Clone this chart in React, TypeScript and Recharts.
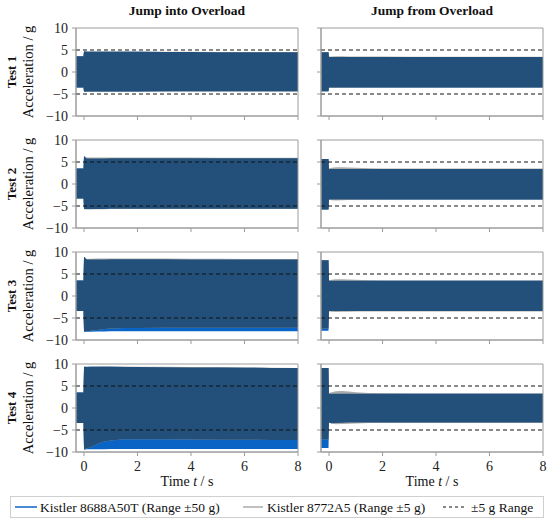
import { ComposedChart, Area, XAxis, YAxis, ReferenceLine, ReferenceArea } from 'recharts';

// sample times (s) shared by every panel
const time = [-0.3, -0.02, 0, 0.1, 0.25, 0.5, 0.75, 1, 1.5, 2, 3, 4, 5, 6, 7, 8];

// Jump into Overload: one row per test
const intoBlueHigh = [
  [3.6, 3.6, 4.7, 4.6, 4.6, 4.6, 4.6, 4.6, 4.6, 4.6, 4.55, 4.55, 4.5, 4.5, 4.5, 4.5],
  [3.5, 3.5, 6.3, 5.8, 5.8, 5.8, 5.8, 5.85, 5.85, 5.85, 5.85, 5.85, 5.85, 5.85, 5.85, 5.85],
  [3.5, 3.5, 8.9, 8.3, 8.3, 8.3, 8.3, 8.35, 8.35, 8.35, 8.35, 8.3, 8.3, 8.3, 8.3, 8.3],
  [3.5, 3.5, 9.4, 9.4, 9.4, 9.4, 9.35, 9.35, 9.3, 9.3, 9.25, 9.2, 9.2, 9.15, 9.1, 9.1],
];
const intoBlueLow = [
  [-3.5, -3.5, -4.5, -4.45, -4.45, -4.45, -4.45, -4.45, -4.45, -4.45, -4.4, -4.4, -4.4, -4.4, -4.4, -4.4],
  [-3.3, -3.3, -5.7, -5.7, -5.7, -5.7, -5.7, -5.65, -5.65, -5.6, -5.6, -5.6, -5.6, -5.6, -5.6, -5.6],
  [-3.4, -3.4, -8.15, -8.1, -8.1, -8.05, -8.05, -8.0, -8.0, -8.0, -8.0, -8.0, -8.0, -8.0, -8.0, -8.0],
  [-3.4, -3.4, -9.5, -9.4, -9.4, -9.35, -9.35, -9.3, -9.3, -9.3, -9.3, -9.3, -9.3, -9.3, -9.3, -9.3],
];
const intoGrayHigh = [
  [3.6, 3.6, 4.7, 4.65, 4.65, 4.65, 4.65, 4.65, 4.65, 4.6, 4.6, 4.6, 4.55, 4.55, 4.55, 4.55],
  [3.5, 3.5, 6.3, 6.0, 6.0, 6.0, 6.0, 6.0, 6.0, 6.0, 6.0, 6.0, 5.95, 5.95, 5.95, 5.95],
  [3.5, 3.5, 8.9, 8.4, 8.45, 8.5, 8.5, 8.55, 8.55, 8.5, 8.5, 8.45, 8.45, 8.4, 8.4, 8.4],
  [3.5, 3.5, 9.4, 9.3, 9.35, 9.4, 9.45, 9.45, 9.45, 9.4, 9.35, 9.3, 9.25, 9.2, 9.15, 9.1],
];
const intoGrayLow = [
  [-3.5, -3.5, -4.5, -4.5, -4.5, -4.5, -4.5, -4.5, -4.45, -4.45, -4.45, -4.45, -4.45, -4.45, -4.45, -4.45],
  [-3.3, -3.3, -5.75, -5.8, -5.8, -5.75, -5.75, -5.7, -5.7, -5.65, -5.65, -5.65, -5.65, -5.65, -5.65, -5.65],
  [-3.4, -3.4, -8.15, -8.0, -7.9, -7.7, -7.5, -7.4, -7.3, -7.25, -7.2, -7.2, -7.2, -7.2, -7.2, -7.2],
  [-3.4, -3.4, -9.3, -9.2, -8.9, -8.2, -7.6, -7.4, -7.1, -7.1, -7.1, -7.15, -7.2, -7.2, -7.25, -7.25],
];

// Jump from Overload: one row per test
const fromBlueHigh = [
  [4.5, 4.5, 3.4, 3.4, 3.4, 3.4, 3.4, 3.4, 3.4, 3.4, 3.4, 3.4, 3.4, 3.4, 3.4, 3.4],
  [5.7, 5.7, 3.4, 3.4, 3.4, 3.4, 3.4, 3.4, 3.4, 3.4, 3.4, 3.4, 3.4, 3.4, 3.4, 3.4],
  [8.1, 8.1, 3.45, 3.45, 3.45, 3.45, 3.45, 3.45, 3.45, 3.45, 3.45, 3.45, 3.45, 3.45, 3.45, 3.45],
  [9.1, 9.1, 3.25, 3.25, 3.25, 3.25, 3.25, 3.25, 3.25, 3.25, 3.25, 3.25, 3.25, 3.25, 3.25, 3.25],
];
const fromBlueLow = [
  [-4.4, -4.4, -3.5, -3.5, -3.5, -3.5, -3.5, -3.5, -3.5, -3.5, -3.5, -3.5, -3.5, -3.5, -3.5, -3.5],
  [-5.8, -5.8, -3.5, -3.5, -3.5, -3.5, -3.5, -3.5, -3.5, -3.5, -3.5, -3.5, -3.5, -3.5, -3.5, -3.5],
  [-7.9, -7.9, -3.4, -3.4, -3.4, -3.4, -3.4, -3.4, -3.4, -3.4, -3.4, -3.4, -3.4, -3.4, -3.4, -3.4],
  [-9.1, -9.1, -3.4, -3.45, -3.4, -3.35, -3.3, -3.3, -3.3, -3.3, -3.3, -3.3, -3.3, -3.3, -3.3, -3.3],
];
const fromGrayHigh = [
  [4.5, 4.5, 3.5, 3.55, 3.6, 3.6, 3.55, 3.55, 3.5, 3.5, 3.45, 3.45, 3.45, 3.45, 3.45, 3.45],
  [5.7, 5.7, 3.5, 3.7, 3.8, 3.8, 3.75, 3.7, 3.6, 3.55, 3.5, 3.5, 3.5, 3.5, 3.5, 3.5],
  [8.1, 8.1, 3.5, 3.7, 3.8, 3.8, 3.75, 3.7, 3.6, 3.55, 3.5, 3.5, 3.5, 3.5, 3.5, 3.5],
  [9.1, 9.1, 3.4, 3.6, 3.8, 3.85, 3.75, 3.6, 3.4, 3.35, 3.3, 3.3, 3.3, 3.3, 3.3, 3.3],
];
const fromGrayLow = [
  [-4.4, -4.4, -3.55, -3.6, -3.6, -3.6, -3.55, -3.55, -3.55, -3.55, -3.55, -3.55, -3.55, -3.55, -3.55, -3.55],
  [-5.8, -5.8, -3.6, -3.7, -3.75, -3.7, -3.65, -3.6, -3.6, -3.55, -3.55, -3.55, -3.55, -3.55, -3.55, -3.55],
  [-7.4, -7.4, -3.5, -3.6, -3.65, -3.6, -3.6, -3.55, -3.5, -3.5, -3.5, -3.5, -3.5, -3.5, -3.5, -3.5],
  [-7.1, -7.1, -3.3, -3.5, -3.7, -3.65, -3.6, -3.5, -3.4, -3.35, -3.35, -3.35, -3.35, -3.35, -3.35, -3.35],
];

const tests = ['Test 1', 'Test 2', 'Test 3', 'Test 4'];
const columnTitles = ['Jump into Overload', 'Jump from Overload'];
const xTicks = [0, 2, 4, 6, 8];
const yTicks = [-10, -5, 0, 5, 10];
const rangeLimit = 5;

const SERIF = '"Liberation Serif", "DejaVu Serif", serif';
const BLUE = '#0a64c6';
const GRAY = '#ababab';
const DARK = '#23507a';
const FRAME = '#9c9c9c';

const colLeft = [76, 321];
const rowTop = [28, 140, 252, 364];
const plotW = 222;
const plotH = 88;
const padTop = 8;
const padRight = 8;

function buildRows(bh: number[], bl: number[], gh: number[], gl: number[]) {
  return time.map((t, i) => ({
    t,
    blue: [bl[i], bh[i]],
    gray: [gl[i], gh[i]],
    both: [Math.max(bl[i], gl[i]), Math.min(bh[i], gh[i])],
  }));
}

const fmtY = (v: number) => (v < 0 ? '\u2212' + Math.abs(v) : String(v));

function Panel({ rows, showX, showY, left, top }: any) {
  return (
    <div style={{ position: 'absolute', left: left - 30, top: top - padTop }}>
      <ComposedChart width={30 + plotW + padRight} height={padTop + plotH + 30} data={rows}
        margin={{ top: padTop, right: padRight, bottom: 0, left: 0 }}>
        <XAxis type="number" dataKey="t" domain={[-0.3, 8]} ticks={xTicks} allowDataOverflow interval={0}
          height={30} stroke={FRAME} tickSize={4} tickMargin={5}
          tick={{ fill: '#222', fontSize: 14, fontFamily: SERIF }}
          tickFormatter={(v: number) => (showX ? String(v) : '')} />
        <YAxis type="number" domain={[-10, 10]} ticks={yTicks} allowDataOverflow interval={0}
          width={30} stroke={FRAME} tickSize={4} tickMargin={4}
          tick={{ fill: '#222', fontSize: 14, fontFamily: SERIF }}
          tickFormatter={(v: number) => (showY ? fmtY(v) : '')} />
        <Area type="linear" dataKey="blue" stroke="none" fill={BLUE} fillOpacity={1}
          dot={false} activeDot={false} isAnimationActive={false} />
        <Area type="linear" dataKey="gray" stroke="none" fill={GRAY} fillOpacity={1}
          dot={false} activeDot={false} isAnimationActive={false} />
        <Area type="linear" dataKey="both" stroke="none" fill={DARK} fillOpacity={1}
          dot={false} activeDot={false} isAnimationActive={false} />
        <ReferenceLine y={rangeLimit} stroke="#111" strokeDasharray="4 3" />
        <ReferenceLine y={-rangeLimit} stroke="#111" strokeDasharray="4 3" />
        <ReferenceArea x1={-0.3} x2={8} y1={-10} y2={10} fill="none" stroke={FRAME} />
      </ComposedChart>
    </div>
  );
}

export default function App() {
  const into = tests.map((_, i) => buildRows(intoBlueHigh[i], intoBlueLow[i], intoGrayHigh[i], intoGrayLow[i]));
  const from = tests.map((_, i) => buildRows(fromBlueHigh[i], fromBlueLow[i], fromGrayHigh[i], fromGrayLow[i]));
  const panels = [into, from];

  return (
    <div style={{ position: 'absolute', left: 0, top: 0, width: 550, height: 522, background: '#fff', fontFamily: SERIF }}>
      {panels.map((col, c) =>
        col.map((rows, r) => (
          <Panel key={`${c}-${r}`} rows={rows} showX={r === 3} showY={c === 0} left={colLeft[c]} top={rowTop[r]} />
        ))
      )}
      <svg width={550} height={522} style={{ position: 'absolute', left: 0, top: 0, pointerEvents: 'none' }}>
        {columnTitles.map((t, c) => (
          <text key={t} x={colLeft[c] + plotW / 2} y={10} textAnchor="middle" dominantBaseline="central"
            fontFamily={SERIF} fontWeight="bold" fontSize={13.5} fill="#111">{t}</text>
        ))}
        {tests.map((t, r) => {
          const cy = rowTop[r] + plotH / 2;
          return (
            <g key={t}>
              <text transform={`translate(11, ${cy}) rotate(-90)`} textAnchor="middle" dominantBaseline="central"
                fontFamily={SERIF} fontWeight="bold" fontSize={13} fill="#111">{t}</text>
              <text transform={`translate(28, ${cy}) rotate(-90)`} textAnchor="middle" dominantBaseline="central"
                fontFamily={SERIF} fontSize={14.5} fill="#111">Acceleration / g</text>
            </g>
          );
        })}
        {colLeft.map((l) => (
          <text key={l} x={l + plotW / 2} y={481} textAnchor="middle" dominantBaseline="central"
            fontFamily={SERIF} fontSize={14} fill="#111">
            Time <tspan fontStyle="italic">t</tspan> / s
          </text>
        ))}
        <rect x={10.5} y={496.5} width={533} height={21} fill="#fff" stroke="#cfcfcf" />
        <line x1={15} x2={37} y1={507} y2={507} stroke={BLUE} strokeWidth={1.5} />
        <text x={40} y={507} dominantBaseline="central" fontFamily={SERIF} fontSize={13.5} fill="#111">
          Kistler 8688A50T (Range ±50 g)
        </text>
        <line x1={243} x2={263} y1={507} y2={507} stroke={GRAY} strokeWidth={1.5} />
        <text x={267} y={507} dominantBaseline="central" fontFamily={SERIF} fontSize={13.5} fill="#111">
          Kistler 8772A5 (Range ±5 g)
        </text>
        <line x1={443} x2={467} y1={507} y2={507} stroke="#111" strokeDasharray="3 3" />
        <text x={471} y={507} dominantBaseline="central" fontFamily={SERIF} fontSize={13.5} fill="#111">
          ±5 g Range
        </text>
      </svg>
    </div>
  );
}
